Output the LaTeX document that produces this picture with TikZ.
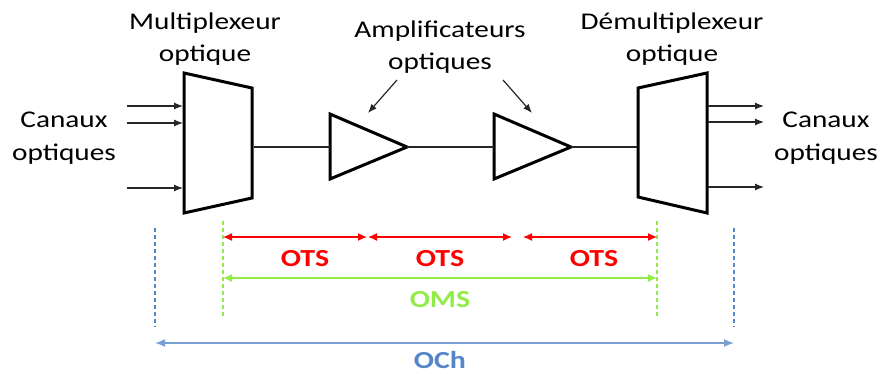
\documentclass[tikz,border=0pt]{standalone}
\usepackage{fontspec}
\setmainfont{Carlito}[FakeStretch=1.22]
\usetikzlibrary{arrows.meta}
\definecolor{otsred}{RGB}{255,0,0}
\definecolor{omsgreen}{RGB}{146,236,72}
\definecolor{ochblue}{RGB}{84,134,200}
\definecolor{ochline}{RGB}{120,160,210}
\tikzset{
  box/.style={line width=3pt, line join=miter},
  wire/.style={line width=1.2pt, draw=black!85},
  inarrow/.style={wire, -{Latex[length=9pt,width=7pt]}},
  lbl/.style={font=\fontsize{24}{32.5}\selectfont, align=center, inner sep=0pt},
  seglbl/.style={font=\fontsize{24.5}{26}\selectfont\bfseries, inner sep=0pt},
  redarr/.style={line width=1.3pt, draw=otsred, {Latex[length=9pt,width=8pt]}-{Latex[length=9pt,width=8pt]}},
  greenarr/.style={line width=1.3pt, draw=omsgreen, {Latex[length=9pt,width=8pt]}-{Latex[length=9pt,width=8pt]}},
  bluearr/.style={line width=1.5pt, draw=ochline, {Latex[length=10pt,width=8pt]}-{Latex[length=10pt,width=8pt]}},
  gdash/.style={line width=1.2pt, draw=omsgreen, dash pattern=on 4pt off 3pt},
  bdash/.style={line width=1.2pt, draw=ochblue, dash pattern=on 4pt off 3pt},
}
\begin{document}
\begin{tikzpicture}[x=1pt,y=-1pt]
\useasboundingbox (0,0) rectangle (881,374);
% multiplexer
\coordinate (m1) at (184,73);
\coordinate (m2) at (252,88);
\coordinate (m3) at (252,198);
\coordinate (m4) at (184,213);
\draw[box] (m1) -- (m2) -- (m3) -- (m4) -- cycle;
% demultiplexer
\coordinate (d1) at (638,88);
\coordinate (d2) at (707,73);
\coordinate (d3) at (707,213);
\coordinate (d4) at (638,197);
\draw[box] (d1) -- (d2) -- (d3) -- (d4) -- cycle;
% amplifiers
\coordinate (a1t) at (330,114);
\coordinate (a1b) at (330,179);
\coordinate (a1o) at (407,147);
\coordinate (a1i) at (330,147);
\coordinate (a2t) at (494,114);
\coordinate (a2b) at (494,179);
\coordinate (a2o) at (571,147);
\coordinate (a2i) at (494,147);
\draw[box] (a1t) -- (a1o) -- (a1b) -- cycle;
\draw[box] (a2t) -- (a2o) -- (a2b) -- cycle;
% wires
\coordinate (mo) at (253.5,147);
\coordinate (di) at (636.5,147);
\draw[wire] (mo) -- (a1i);
\draw[wire] (a1o) -- (a2i);
\draw[wire] (a2o) -- (di);
% inputs
\coordinate (i1s) at (127,106); \coordinate (i1e) at (183,106);
\coordinate (i2s) at (127,123); \coordinate (i2e) at (183,123);
\coordinate (i3s) at (127,188); \coordinate (i3e) at (183,188);
\draw[inarrow] (i1s) -- (i1e);
\draw[inarrow] (i2s) -- (i2e);
\draw[inarrow] (i3s) -- (i3e);
% outputs
\coordinate (o1s) at (708,106); \coordinate (o1e) at (764,106);
\coordinate (o2s) at (708,122); \coordinate (o2e) at (764,122);
\coordinate (o3s) at (708,187); \coordinate (o3e) at (764,187);
\draw[inarrow] (o1s) -- (o1e);
\draw[inarrow] (o2s) -- (o2e);
\draw[inarrow] (o3s) -- (o3e);
% texts
\node[lbl] (cin) at (64,138) {Canaux\\optiques};
\node[lbl] (cout) at (826,138) {Canaux\\optiques};
\node[lbl] (mux) at (205,39) {Multiplexeur\\optique};
\node[lbl] (amp) at (440,47) {Amplificateurs\\optiques};
\node[lbl] (dmux) at (672,39) {Démultiplexeur\\optique};
% pointer arrows
\coordinate (p1s) at (397,80); \coordinate (p1e) at (368,113);
\coordinate (p2s) at (503,80); \coordinate (p2e) at (532,113);
\draw[inarrow] (p1s) -- (p1e);
\draw[inarrow] (p2s) -- (p2e);
% dashed verticals
\coordinate (gl1) at (223,221); \coordinate (gl2) at (223,318);
\coordinate (gr1) at (657,221); \coordinate (gr2) at (657,318);
\coordinate (bl1) at (155,228); \coordinate (bl2) at (155,327);
\coordinate (br1) at (734,228); \coordinate (br2) at (734,327);
\draw[gdash] (gl1) -- (gl2);
\draw[gdash] (gr1) -- (gr2);
\draw[bdash] (bl1) -- (bl2);
\draw[bdash] (br1) -- (br2);
% OTS arrows
\coordinate (r1a) at (223,237); \coordinate (r1b) at (367,237);
\coordinate (r2a) at (368,237); \coordinate (r2b) at (512,237);
\coordinate (r3a) at (523,237); \coordinate (r3b) at (657,237);
\draw[redarr] (r1a) -- (r1b);
\draw[redarr] (r2a) -- (r2b);
\draw[redarr] (r3a) -- (r3b);
\node[seglbl, text=otsred] (ots1) at (305,259) {OTS};
\node[seglbl, text=otsred] (ots2) at (440,259) {OTS};
\node[seglbl, text=otsred] (ots3) at (594,259) {OTS};
% OMS
\coordinate (g1) at (223,278); \coordinate (g2) at (657,278);
\draw[greenarr] (g1) -- (g2);
\node[seglbl, text=omsgreen] (oms) at (440,300) {OMS};
% OCh
\coordinate (b1) at (155,343); \coordinate (b2) at (734,343);
\draw[bluearr] (b1) -- (b2);
\node[seglbl, text=ochblue] (och) at (440,360) {OCh};
\end{tikzpicture}
\end{document}
